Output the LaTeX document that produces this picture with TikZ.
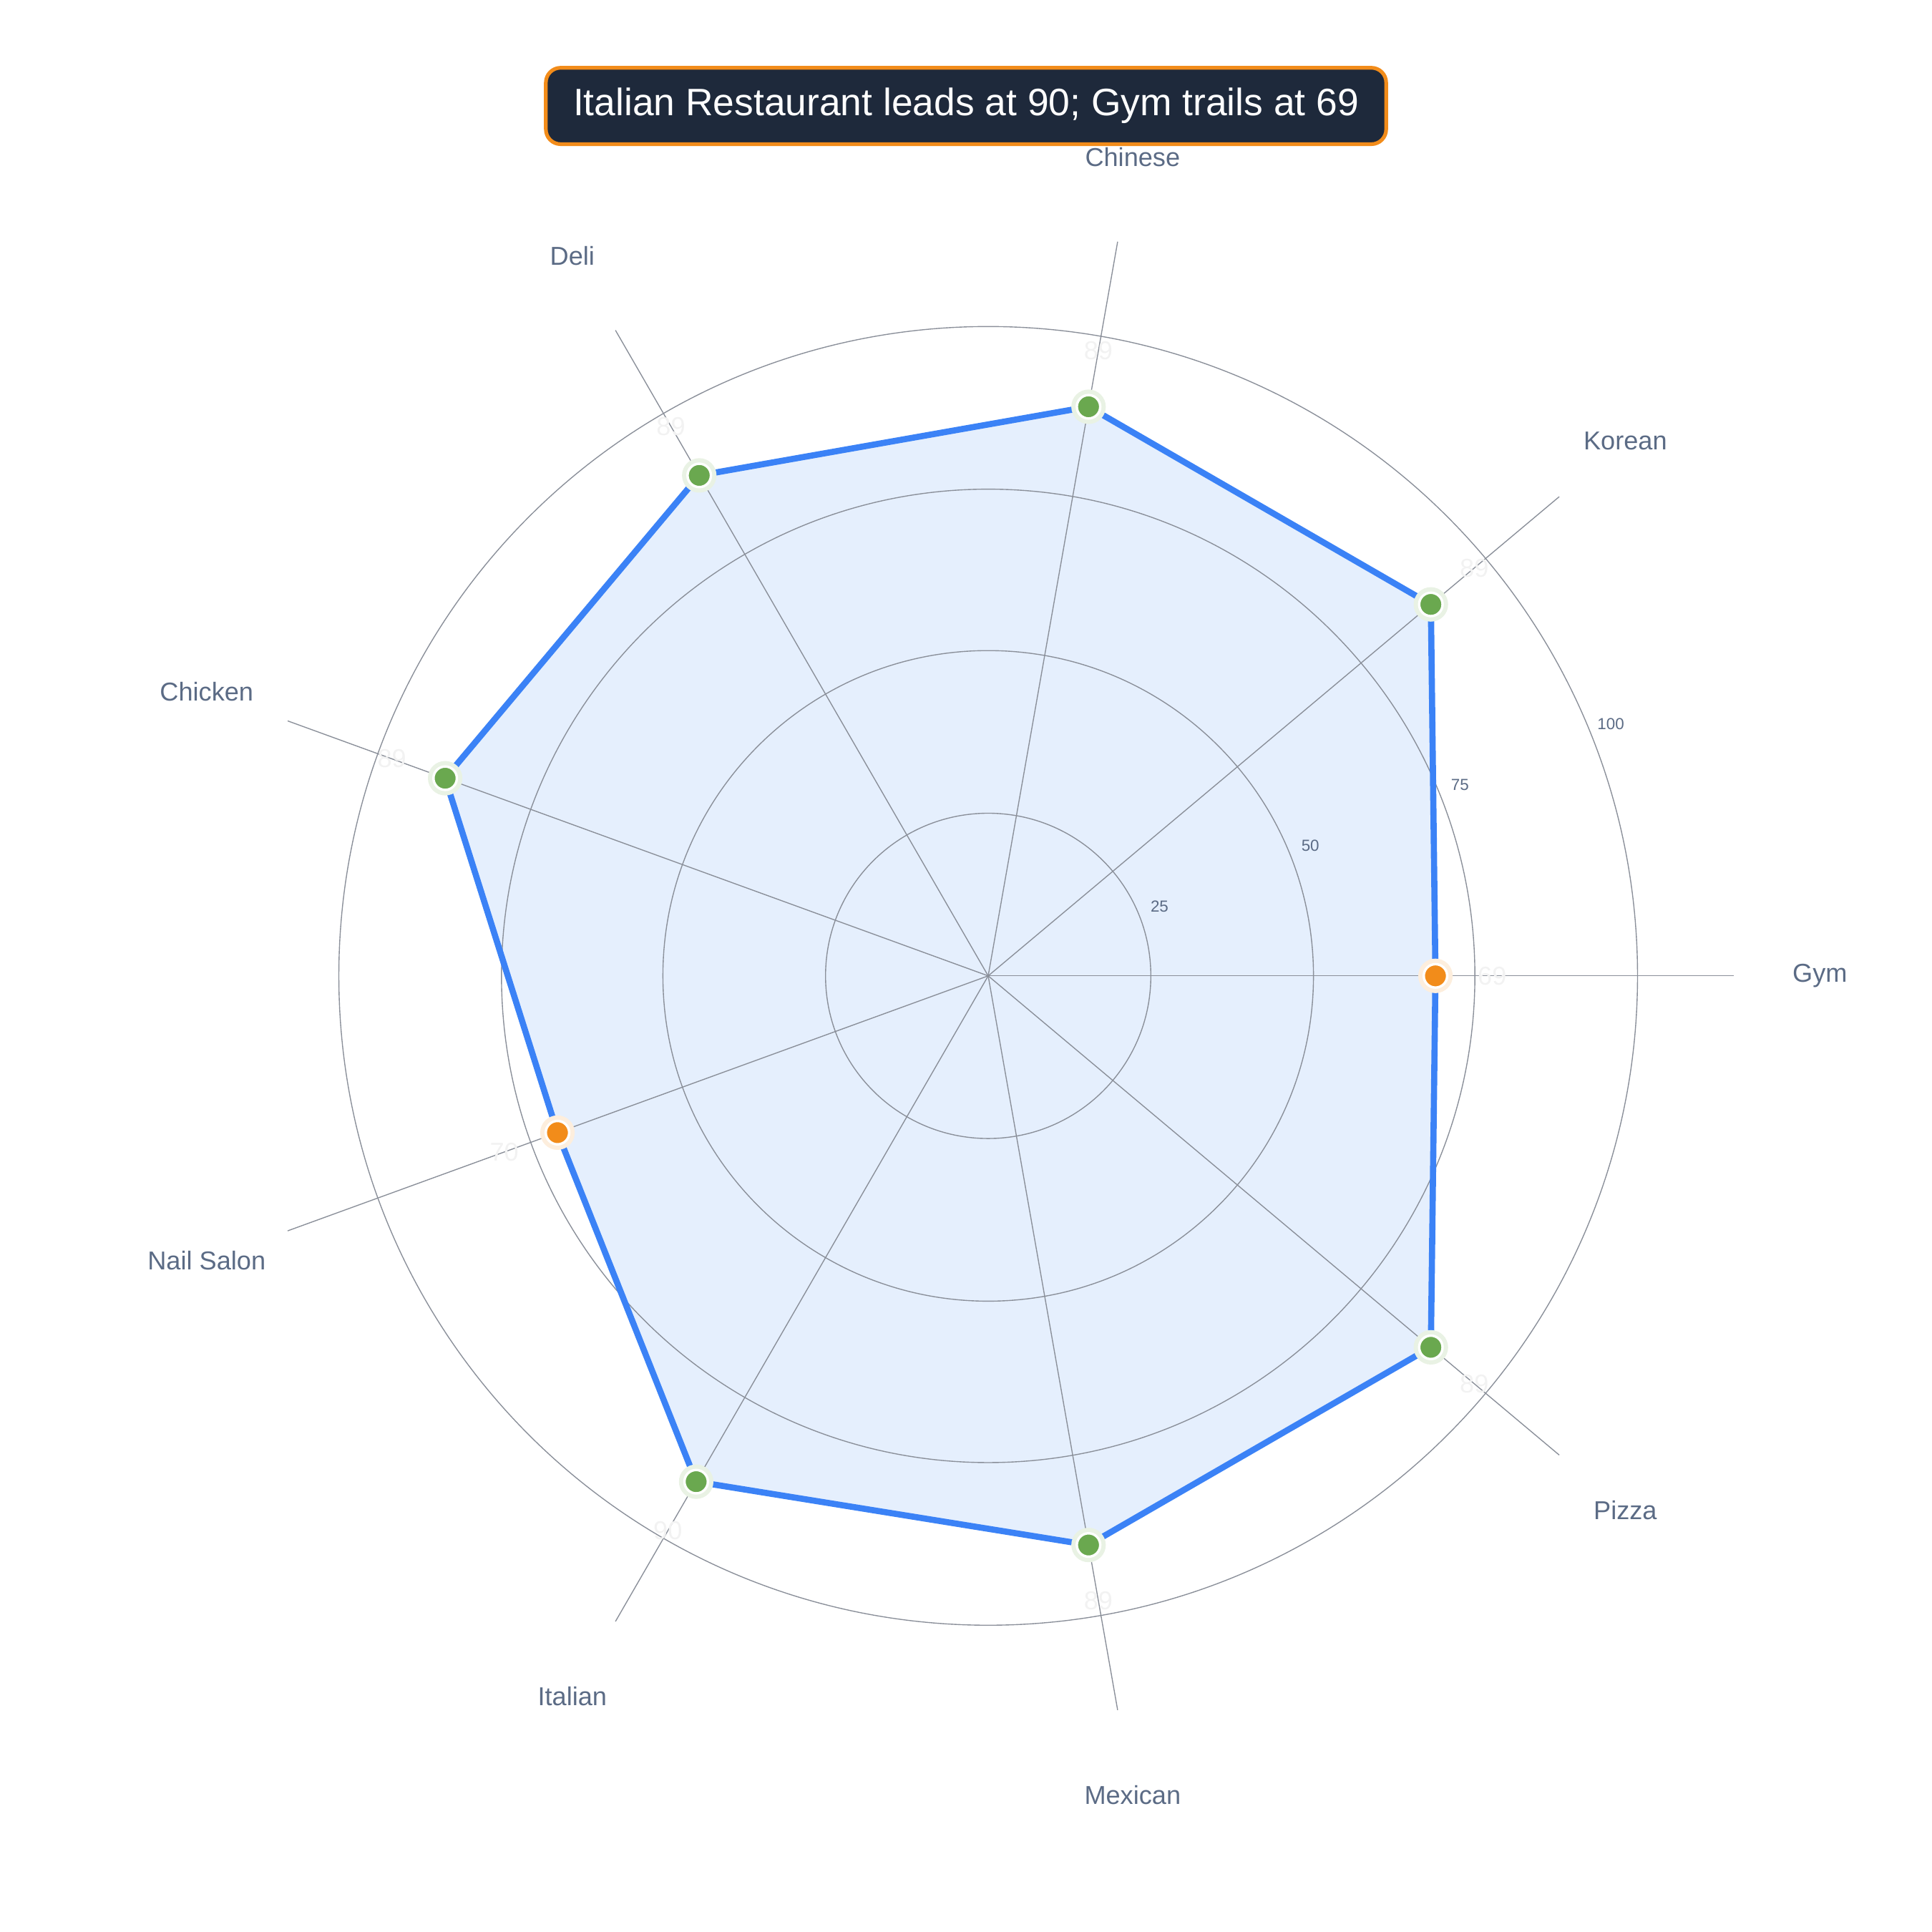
\documentclass[tikz,border=0pt]{standalone}
\usepackage{fontspec}
\setmainfont{Liberation Sans}
\definecolor{ax}{HTML}{8A8F99}
\definecolor{lab}{HTML}{5B6B85}
\definecolor{ln}{HTML}{3B82F6}
\definecolor{fl}{HTML}{E5EFFD}
\definecolor{gr}{HTML}{6AA84F}
\definecolor{orn}{HTML}{F28C1A}
\definecolor{tb}{HTML}{1E293B}
\begin{document}
\begin{tikzpicture}[x=1pt,y=-1pt,
 cat/.style={font=\fontsize{21}{24}\selectfont,text=lab},
 val/.style={font=\fontsize{21}{24}\selectfont,text=gray!10},
 tick/.style={font=\fontsize{13}{15}\selectfont,text=lab},
 mk/.style={circle,draw=white,line width=2pt,minimum size=19pt,inner sep=0pt}]
\useasboundingbox (0,0) rectangle (1568,1568);
\coordinate (c) at (802,792);
\begin{scope}[shift={(c)},y=1pt]
\fill[fl] (0:363)--(40:469)--(80:469)--(120:469)--(160:469)--(200:372)--(240:474)--(280:469)--(320:469)--cycle;
\foreach \r in {132,264,395,527} \draw[ax,line width=0.8pt] (0,0) circle[radius=\r];
\foreach \a/\n in {0/Gym,40/Korean,80/Chinese,120/Deli,160/Chicken,200/Nail Salon,240/Italian,280/Mexican,320/Pizza}{
 \draw[ax,line width=0.8pt] (0,0) -- (\a:605);
 \node[cat] at (\a:675) {\n};}
\foreach \v/\t in {132/25,264/50,395/75,527/100} \node[tick] at (22:\v+18) {\t};
\draw[ln,line width=5pt,line join=round] (0:363)--(40:469)--(80:469)--(120:469)--(160:469)--(200:372)--(240:474)--(280:469)--(320:469)--cycle;
\foreach \a/\r/\col/\v in {0/363/orn/69,40/469/gr/89,80/469/gr/89,120/469/gr/89,160/469/gr/89,200/372/orn/70,240/474/gr/90,280/469/gr/89,320/469/gr/89}{
 \fill[\col!15] (\a:\r) circle[radius=14];
 \node[mk,fill=\col] (m\a) at (\a:\r) {};
 \node[val] at (\a:\r+46) {\v};}
\end{scope}
\node[draw=orn,line width=3pt,fill=tb,rounded corners=12pt,minimum width=682pt,minimum height=62pt,text=white,font=\fontsize{31}{36}\selectfont] (t) at (784,86) {Italian Restaurant leads at 90; Gym trails at 69};
\end{tikzpicture}
\end{document}
